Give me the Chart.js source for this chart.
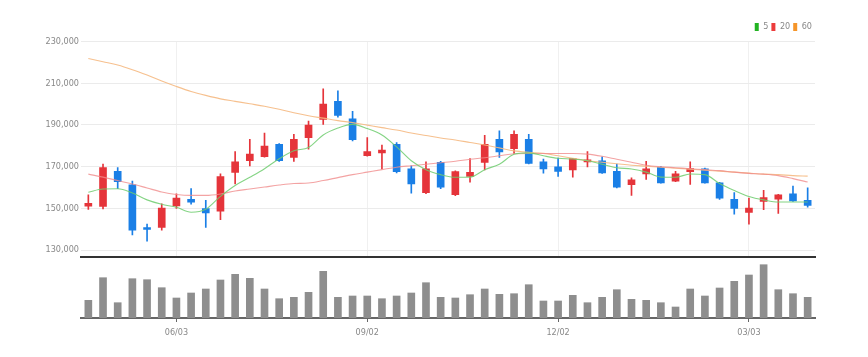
<!DOCTYPE html>
<html><head><meta charset="utf-8">
<script src="https://cdn.jsdelivr.net/npm/chart.js@4/dist/chart.umd.min.js"></script>
<style>
html,body{margin:0;padding:0;background:#fff;}
#wrap{position:relative;width:868px;height:357px;overflow:hidden;background:#fff;}
#price{position:absolute;left:0;top:0;}
#vol{position:absolute;left:0;top:257px;}
</style></head><body>
<div id="wrap"><canvas id="price" width="868" height="259"></canvas><canvas id="vol" width="868" height="100"></canvas></div>
<script>
const categories = ['04/22','04/29','05/06','05/13','05/20','05/27','06/03','06/10','06/17','06/24',
 '07/01','07/08','07/15','07/22','07/29','08/05','08/12','08/19','08/26','09/02',
 '09/09','09/16','09/23','09/30','10/07','10/14','10/21','10/28','11/04','11/11',
 '11/18','11/25','12/02','12/09','12/16','12/23','12/30','01/06','01/13','01/20',
 '01/27','02/03','02/10','02/17','02/24','03/03','03/10','03/17','03/24','03/31'];
const tickLabels = ['06/03','09/02','12/02','03/03'];
const priceTicks = [130000,150000,170000,190000,210000,230000];

const opens  = [151000,150950,167700,161300,140800,140800,151100,154300,149900,148600,
 167200,172800,174800,180700,174400,183900,192600,201300,192900,175200,
 176600,180700,168900,157500,172000,156500,165300,172000,183100,178600,
 183100,172300,169900,168400,172300,172800,167700,161300,166500,169600,
 163000,167600,168900,162200,154300,148000,153300,154400,157000,153800];
const highs  = [156500,171200,169500,163000,142400,152200,157000,159400,153800,166500,
 177200,183100,186100,181000,185500,191800,207300,206400,196500,183900,
 180300,181500,170400,172300,172500,168000,173900,185000,187100,187100,
 185500,173600,174100,173900,177200,174700,171200,164600,172500,170100,
 167700,172300,169300,162500,157500,154900,158600,156700,160600,159800];
const lows   = [149500,149700,159400,137200,134200,139500,149900,152000,140800,144600,
 161700,170300,174500,172500,172500,178400,190200,193700,182300,175000,
 168900,167000,157300,157000,159400,156000,162500,168400,174400,176300,
 171300,166800,165300,164900,169900,166700,159800,156200,163800,162000,
 162800,161400,162000,154300,147200,142400,149400,147500,153300,150600];
const closes = [152400,169500,162800,139500,139900,150100,154900,153000,147800,165200,
 172300,176000,179900,172800,183100,189900,200000,194500,182900,177200,
 177900,167600,161700,168900,160100,167600,167200,180700,177100,185500,
 171500,168900,167700,173900,173300,167000,160100,163600,168900,162200,
 166500,169100,162200,154900,149900,150100,155100,156500,153500,151400];

const ma5  = [157740,159260,159360,157360,154040,151900,150480,148100,149530,155700,
 160930,164870,169000,173750,177550,179210,185150,188480,190230,188240,
 185150,179450,172800,168530,166150,164870,164960,168530,171140,175890,
 176600,175180,173990,173610,172800,171140,169480,168860,167340,164960,
 164870,166480,166150,161880,158550,155700,154040,152990,152990,152990];
const ma20 = [166390,164960,163300,161640,159740,157840,156650,156180,156180,156890,
 158310,159260,160210,161160,161880,162110,163300,164730,166150,167340,
 168530,169710,170430,171140,171850,172560,173510,174230,175180,176130,
 176270,176270,176270,176270,175980,174940,173510,172090,170660,169950,
 169480,169000,168530,168050,167340,166770,166390,165680,164250,162590];
const ma60 = [221870,220300,218730,216500,213890,211040,208430,206050,204150,202490,
 201300,200110,198930,197500,195840,194410,193230,192040,191090,189900,
 188710,187530,186100,184910,183730,182780,181590,180400,178980,177550,
 176840,176360,175180,173990,172800,172090,171380,170660,170190,169710,
 169240,168760,168290,167810,167340,166860,166390,166150,165680,165440];

const volumes = [177,403,153,393,383,303,200,250,290,380,
 437,397,290,193,207,257,467,207,220,220,
 193,220,250,353,207,200,233,290,237,243,
 333,170,170,227,153,207,283,187,177,153,
 110,290,220,300,367,430,533,283,243,207];

const UP = '#e5343a', DOWN = '#1a7fe6';
const candleColors = opens.map((o,i)=> closes[i] >= o ? UP : DOWN);
const tickIdx = tickLabels.map(t => categories.indexOf(t));
const FONT = "'Liberation Sans Narrow','DejaVu Sans Condensed','Liberation Sans',sans-serif";

const legendColors = {'5':'#22b322','20':'#ec3b3b','60':'#f5952a'};

new Chart(document.getElementById('price'), {
  type: 'bar',
  data: {
    labels: categories,
    datasets: [
      {type:'line', label:'5', data: ma5, borderColor:'rgba(110,205,110,0.85)', borderWidth:1.1, pointRadius:0, cubicInterpolationMode:'monotone', order:0},
      {type:'line', label:'20', data: ma20, borderColor:'rgba(240,140,140,0.8)', borderWidth:1.1, pointRadius:0, cubicInterpolationMode:'monotone', order:0},
      {type:'line', label:'60', data: ma60, borderColor:'rgba(245,185,130,0.9)', borderWidth:1.1, pointRadius:0, cubicInterpolationMode:'monotone', order:0},
      {type:'bar', label:'wick', data: lows.map((l,i)=>[l, highs[i]]), backgroundColor: candleColors, barThickness:1, grouped:false, order:2},
      {type:'bar', label:'body', data: opens.map((o,i)=>[o, closes[i]]), backgroundColor: candleColors, barThickness:7, grouped:false, order:1}
    ]
  },
  options: {
    responsive:false, animation:false,
    layout:{padding:{left:0, right:53, top:19.5, bottom:0}},
    plugins:{
      tooltip:{enabled:false},
      legend:{
        display:true, position:'top', align:'end',
        labels:{
          font:{family:FONT, size:9}, color:'#888', boxWidth:4, boxHeight:8, padding:3,
          filter:(item)=> ['5','20','60'].includes(item.text),
          generateLabels:(chart)=> chart.data.datasets.map((ds,i)=>({
            text: ds.label, fillStyle: legendColors[ds.label] || '#000', strokeStyle: legendColors[ds.label] || '#000',
            lineWidth:0, hidden:false, datasetIndex:i, fontColor:'#888'
          }))
        }
      }
    },
    scales:{
      x:{
        offset:true,
        grid:{offset:false, color:'#f0f0f0', drawTicks:false},
        border:{display:true, color:'#333', width:2},
        ticks:{display:false, autoSkip:false},
        afterBuildTicks:(s)=>{ s.ticks = tickIdx.map(v=>({value:v})); },
        afterFit:(s)=>{ s.height = 1.7; s.paddingLeft = 0; s.paddingRight = 0; }
      },
      y:{
        min:126500, max:230000,
        grid:{color:'#ebebeb', drawTicks:false},
        border:{display:false},
        ticks:{font:{family:FONT, size:9}, color:'#888', padding:2,
          callback:(v)=> Number(v).toLocaleString('en-US')},
        afterBuildTicks:(s)=>{ s.ticks = priceTicks.map(v=>({value:v})); },
        afterFit:(s)=>{ s.width = 81; s.paddingTop = 0; s.paddingBottom = 0; }
      }
    }
  }
});

new Chart(document.getElementById('vol'), {
  type:'bar',
  data:{
    labels: categories,
    datasets:[{label:'volume', data: volumes, backgroundColor:'#8e8e8e', barThickness:7}]
  },
  options:{
    responsive:false, animation:false,
    layout:{padding:{left:81, right:53, top:1, bottom:0}},
    plugins:{legend:{display:false}, tooltip:{enabled:false}},
    scales:{
      x:{
        offset:true,
        grid:{offset:false, drawOnChartArea:false, drawTicks:true, tickLength:4, color:'#666'},
        border:{display:true, color:'#666', width:2},
        ticks:{font:{family:FONT, size:9}, color:'#888', padding:5, autoSkip:false, maxRotation:0},
        afterBuildTicks:(s)=>{ s.ticks = tickIdx.map(v=>({value:v})); },
        afterFit:(s)=>{ s.height = 39; s.paddingLeft = 0; s.paddingRight = 0; }
      },
      y:{display:false, min:0, max:600}
    }
  }
});
</script></body></html>
